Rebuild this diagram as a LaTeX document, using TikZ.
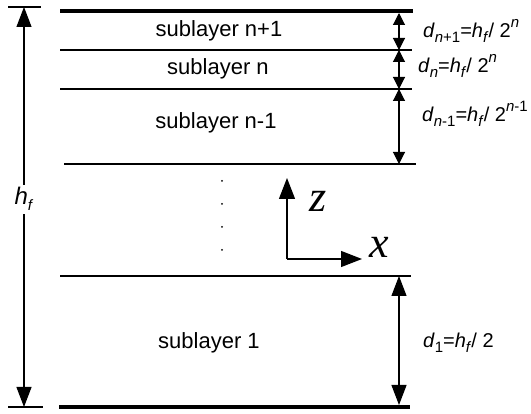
\documentclass[tikz,border=0pt]{standalone}
\usepackage{fontspec}
\setmainfont{Liberation Sans}
\newfontfamily\axisfont{Liberation Serif}
\usetikzlibrary{arrows.meta}
\tikzset{
  layerline/.style={line width=2pt},
  edgeline/.style={line width=4pt},
  tickline/.style={line width=1.2pt},
  dimarrow/.style={{Triangle[length=12pt,width=12pt]}-{Triangle[length=12pt,width=12pt]}, line width=1.1pt},
  bigarrow/.style={{Triangle[length=20pt,width=15pt]}-{Triangle[length=20pt,width=15pt]}, line width=1.1pt},
  axisarrow/.style={-{Triangle[length=21pt,width=16pt]}, line width=1.3pt},
  sublabel/.style={font=\fontsize{22}{26}\selectfont, anchor=base},
  dimlabel/.style={font=\fontsize{20}{24}\selectfont, anchor=base west, inner sep=0pt},
  axislabel/.style={font=\fontsize{44}{48}\selectfont\axisfont\itshape, anchor=base},
  vdot/.style={circle, fill, inner sep=0pt, minimum size=2pt}
}
\newcommand{\ital}[1]{\textit{#1}}
\newcommand{\lowidx}[1]{\raisebox{-0.25em}{\fontsize{15}{15}\selectfont #1}}
\newcommand{\highidx}[1]{\raisebox{0.5em}{\fontsize{15}{15}\selectfont #1}}

\begin{document}
\begin{tikzpicture}[x=1pt, y=-1pt]
  \useasboundingbox (0,0) rectangle (531,414);
  % layer boundaries
  \draw[edgeline]  (60,11) coordinate (top w) -- (413,11) coordinate (top e);
  \draw[layerline] (60,50) coordinate (l1 w) -- (412,50) coordinate (l1 e);
  \draw[layerline] (60,89) coordinate (l2 w) -- (412,89) coordinate (l2 e);
  \draw[layerline] (64,164) coordinate (l3 w) -- (416,164) coordinate (l3 e);
  \draw[layerline] (60,276) coordinate (l4 w) -- (411,276) coordinate (l4 e);
  \draw[edgeline]  (59,407) coordinate (bot w) -- (410,407) coordinate (bot e);

  % layer names
  \node[sublabel] (sub top) at (219,37) {sublayer n+1};
  \node[sublabel] (sub n) at (218,75) {sublayer n};
  \node[sublabel] (sub nm) at (216,129) {sublayer n-1};
  \node[sublabel] (sub one) at (209,349) {sublayer 1};

  % thicknesses on the right
  \coordinate (d0) at (399,13);
  \coordinate (d1) at (399,50);
  \coordinate (d2) at (399,89);
  \coordinate (d3) at (399,164);
  \coordinate (d4) at (399,276);
  \coordinate (d5) at (399,405);
  \draw[dimarrow] (d0) -- (d1);
  \draw[dimarrow] (d1) -- (d2);
  \draw[dimarrow] (d2) -- (d3);
  \draw[bigarrow] (d4) -- (d5);
  \node[dimlabel] (dtop) at (423,38) {\ital{d}\lowidx{\ital{n}+1}=\ital{h}\lowidx{\ital{f}}/ 2\highidx{\ital{n}}};
  \node[dimlabel] (dn) at (418,73) {\ital{d}\lowidx{\ital{n}}=\ital{h}\lowidx{\ital{f}}/ 2\highidx{\ital{n}}};
  \node[dimlabel] (dnm) at (422,122) {\ital{d}\lowidx{\ital{n}-1}=\ital{h}\lowidx{\ital{f}}/ 2\highidx{\ital{n}-1}};
  \node[dimlabel] (done) at (423,348) {\ital{d}\lowidx{1}=\ital{h}\lowidx{\ital{f}}/ 2};

  % total thickness on the left
  \draw[tickline] (8,7) coordinate (tick top w) -- (41,7) coordinate (tick top e);
  \draw[tickline] (8,407) coordinate (tick bot w) -- (43,407) coordinate (tick bot e);
  \coordinate (hf top) at (24,7);
  \coordinate (hf bot) at (24,407);
  \draw[bigarrow] (hf top) -- (hf bot);
  \node[font=\fontsize{24}{26}\selectfont, fill=white, anchor=base, inner sep=3pt] (hf) at (24,205) {\ital{h}\lowidx{\ital{f}}};

  % omitted sublayers
  \foreach \y [count=\i] in {181,204,227,250}
    \node[vdot] (dot\i) at (222,\y) {};

  % axes
  \coordinate (origin) at (287,259);
  \coordinate (z end) at (287,178);
  \coordinate (x end) at (362,259);
  \draw[axisarrow] (origin) -- (z end);
  \draw[axisarrow] (origin) -- (x end);
  \node[axislabel] (zlab) at (318,212) {z};
  \node[axislabel] (xlab) at (379,258) {x};
\end{tikzpicture}
\end{document}
